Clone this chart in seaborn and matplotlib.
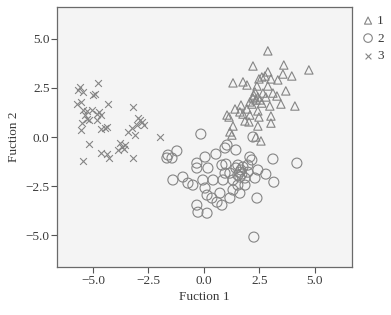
import matplotlib
matplotlib.use("Agg")
import matplotlib.pyplot as plt
import seaborn as sns
import pandas as pd

# Group 1 (triangles)
g1_x = [2.88, 2.21, 3.60, 4.73, 2.88, 2.61, 2.48, 2.75, 3.02, 3.33, 3.56, 3.96,
        1.31, 1.76, 1.94, 2.39, 2.88, 3.69, 2.30, 2.66, 3.11, 3.29, 2.21, 2.34,
        2.07, 2.52, 2.43, 2.61, 2.97, 3.47, 4.10, 1.67, 1.40, 1.94, 1.62, 1.76,
        2.43, 2.07, 1.04, 1.13, 2.48, 3.02, 1.85, 2.03, 3.02, 1.31, 2.43, 1.17,
        1.26, 2.34, 2.57, 2.25, 2.79, 2.16]
g1_y = [4.39, 3.62, 3.67, 3.42, 3.32, 3.06, 2.96, 3.11, 2.96, 2.91, 3.21, 3.11,
        2.76, 2.81, 2.65, 2.60, 2.60, 2.35, 2.30, 2.24, 2.24, 2.09, 1.99, 1.89,
        1.79, 1.89, 2.04, 1.73, 1.58, 1.68, 1.58, 1.63, 1.43, 1.43, 1.28, 1.17,
        1.33, 1.12, 1.12, 1.02, 1.02, 1.07, 0.82, 0.77, 0.71, 0.56, 0.56, 0.26,
        0.10, 0.00, -0.20, 2.14, 2.04, 1.68]

# Group 2 (circles)
g2_x = [-0.14, -1.62, -1.67, -1.44, -1.22, -0.32, -0.32, 0.05, 0.54, 0.95, 1.04,
        1.44, 2.07, 2.16, 2.21, 3.11, 4.19, 0.18, 0.81, 0.99, 1.17, 1.53, 1.62,
        1.76, 1.98, 1.98, 2.43, 2.79, -1.40, -0.95, -0.72, -0.50, -0.05, 0.41,
        0.86, 1.31, 1.62, 1.85, 2.30, 3.15, 0.05, 0.14, 0.36, 0.59, 0.81, 0.72,
        1.17, 1.62, 2.39, 1.31, 1.53, -0.32, -0.27, 0.14, 2.25, 0.95, 1.85, 1.44,
        1.67, 1.71, 1.53]
g2_y = [0.15, -0.92, -1.07, -1.07, -0.71, -1.33, -1.58, -1.02, -0.87, -0.56, -0.41,
        -0.66, -1.02, -1.17, 0.00, -1.12, -1.33, -1.58, -1.43, -1.38, -1.84, -1.94,
        -1.79, -1.53, -1.43, -1.79, -1.68, -1.89, -2.19, -2.04, -2.35, -2.45, -2.19,
        -2.19, -2.19, -2.19, -2.04, -2.45, -2.09, -2.30, -2.60, -2.96, -3.11, -3.32,
        -3.47, -2.86, -3.11, -2.86, -3.11, -2.70, -2.45, -3.47, -3.83, -3.88, -5.10,
        -1.84, -2.09, -1.58, -1.68, -1.89, -1.43]

# Group 3 (crosses)
g3_x = [-5.59, -5.68, -5.45, -4.77, -5.00, -4.91, -5.72, -5.54, -5.45, -5.27, -5.05,
        -4.73, -4.82, -4.64, -4.32, -5.36, -5.27, -5.50, -5.54, -5.18, -4.82, -4.64,
        -4.46, -4.37, -3.20, -2.88, -2.97, -2.79, -2.70, -3.02, -3.24, -3.42, -3.11,
        -1.98, -5.18, -3.78, -3.69, -3.60, -3.87, -4.64, -4.37, -4.28, -3.20, -5.45,
        -3.56]
g3_y = [2.55, 2.40, 2.30, 2.76, 2.14, 2.19, 1.68, 1.79, 1.38, 1.33, 1.38, 1.28, 1.17,
        1.12, 1.68, 1.12, 0.92, 0.71, 0.36, 0.87, 0.87, 0.41, 0.46, 0.51, 1.53, 0.87,
        0.97, 0.77, 0.61, 0.61, 0.46, 0.26, 0.10, 0.00, -0.36, -0.31, -0.51, -0.61,
        -0.66, -0.82, -0.87, -1.07, -1.07, -1.22, -0.41]

group_labels = ["1", "2", "3"]
tick_vals = [-5.0, -2.5, 0.0, 2.5, 5.0]
x_label = "Fuction 1"
y_label = "Fuction 2"

sns.set_theme(style="white")
plt.rcParams["font.family"] = ["Liberation Serif", "DejaVu Serif"]
plt.rcParams["axes.unicode_minus"] = True

fig = plt.figure(figsize=(3.91, 3.15), dpi=100)
ax = fig.add_axes([0.146, 0.152, 0.754, 0.826])
ax.set_facecolor("#f4f4f4")

mc = "#858585"
d1 = pd.DataFrame({"x": g1_x, "y": g1_y})
d2 = pd.DataFrame({"x": g2_x, "y": g2_y})
d3 = pd.DataFrame({"x": g3_x, "y": g3_y})

sns.scatterplot(data=d1, x="x", y="y", marker="^", s=36, facecolor="none",
                edgecolor=mc, linewidth=0.8, ax=ax, label=group_labels[0])
sns.scatterplot(data=d2, x="x", y="y", marker="o", s=52, facecolor="none",
                edgecolor=mc, linewidth=0.8, ax=ax, label=group_labels[1])
sns.scatterplot(data=d3, x="x", y="y", marker="x", s=24, color=mc,
                linewidth=0.8, ax=ax, label=group_labels[2])

ax.set_xlim(-6.62, 6.67)
ax.set_ylim(-6.63, 6.63)
ax.set_xticks(tick_vals)
ax.set_yticks(tick_vals)
ax.set_xticklabels([f"{v:.1f}".replace("-", "\u2212") for v in tick_vals])
ax.set_yticklabels([f"{v:.1f}".replace("-", "\u2212") for v in tick_vals])
ax.tick_params(axis="both", which="both", direction="out", length=4, width=0.8,
               color="#555555", labelsize=9.5, labelcolor="#3a3a3a", pad=1.5,
               bottom=True, left=True)
ax.set_xlabel(x_label, fontsize=9.5, color="#3a3a3a", labelpad=3)
ax.set_ylabel(y_label, fontsize=9.5, color="#3a3a3a", labelpad=4)
for side, sp in ax.spines.items():
    sp.set_color("#6a6a6a")
    sp.set_linewidth(0.9)

leg = ax.legend(loc="upper left", bbox_to_anchor=(1.01, 0.99), frameon=False,
                fontsize=9.5, handletextpad=0.1, labelspacing=0.4,
                borderaxespad=0.0, handlelength=1.2, markerscale=0.85)
for t in leg.get_texts():
    t.set_color("#3a3a3a")

fig.savefig("out.png", dpi=100, facecolor="white")
